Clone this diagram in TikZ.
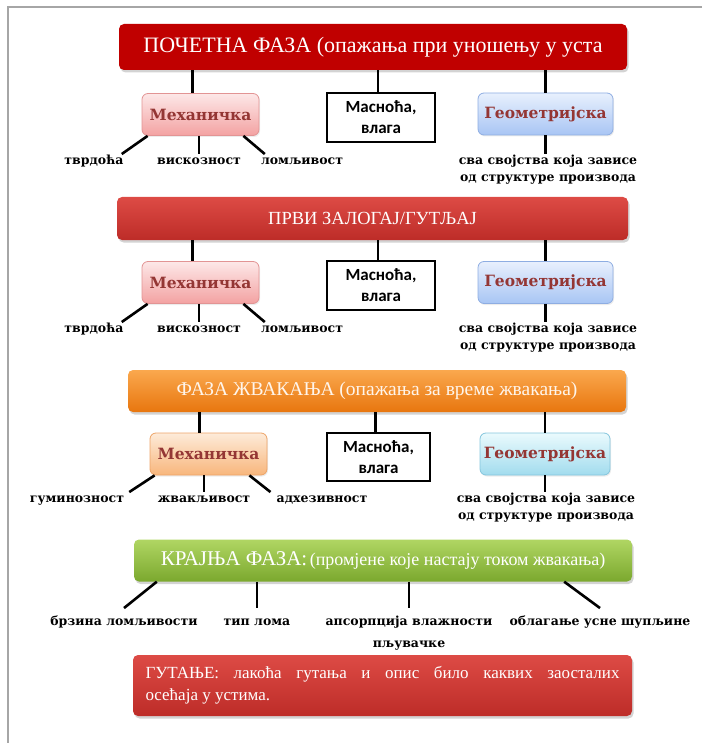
\documentclass[tikz,border=0pt]{standalone}
\usepackage{fontspec}
\setmainfont{Liberation Serif}
\newfontfamily\lblfont{DejaVu Serif}
\newfontfamily\boxfont{Carlito}
\usetikzlibrary{shadows}
\definecolor{banA}{HTML}{C00000}
\definecolor{redtop}{HTML}{DD4B45}\definecolor{redbot}{HTML}{BD2C28}
\definecolor{oratop}{HTML}{FAA84E}\definecolor{orabot}{HTML}{E8760E}
\definecolor{grntop}{HTML}{B0D663}\definecolor{grnbot}{HTML}{7BA82E}
\definecolor{pinktop}{HTML}{FDE8E8}\definecolor{pinkbot}{HTML}{F3A2A2}\definecolor{pinkline}{HTML}{E29494}
\definecolor{peachtop}{HTML}{FDEBD9}\definecolor{peachbot}{HTML}{F8B67C}\definecolor{peachline}{HTML}{EDA468}
\definecolor{bluetop}{HTML}{E8F0FD}\definecolor{bluebot}{HTML}{A8C5F4}\definecolor{blueline}{HTML}{8EADE2}
\definecolor{cyantop}{HTML}{EAFAFD}\definecolor{cyanbot}{HTML}{A2DCEE}\definecolor{cyanline}{HTML}{84C5DD}
\definecolor{mechtext}{HTML}{943634}
\begin{document}
\begin{tikzpicture}[x=1pt, y=-1pt,
  banner/.style={rounded corners=5pt, text=white, inner sep=0pt,
    drop shadow={opacity=.35, shadow xshift=1.5pt, shadow yshift=-2.5pt}},
  catbox/.style={rounded corners=6pt, draw=#1line, top color=#1top, bottom color=#1bot,
    line width=.8pt, text=mechtext, minimum height=42pt, inner sep=0pt,
    font=\lblfont\bfseries\fontsize{15.5}{17}\selectfont,
    drop shadow={opacity=.15, shadow xshift=1pt, shadow yshift=-1.5pt}},
  fatbox/.style={draw, line width=1.6pt, fill=white, align=center, minimum width=108pt,
    minimum height=49pt, inner sep=0pt, font=\boxfont\bfseries\fontsize{17}{21}\selectfont},
  lbl/.style={inner sep=1pt, text height=9pt, text depth=2.5pt,
    font=\lblfont\bfseries\fontsize{12.5}{14}\selectfont},
  lbltwo/.style={inner sep=1pt, align=center, font=\lblfont\bfseries\fontsize{12.5}{17}\selectfont},
  conn/.style={line width=2.6pt}]
\useasboundingbox (0,0) rectangle (702,743);
\draw[black!35, line width=1.2pt] (702,7) -- (8,7) -- (8,743);

% pocetna faza
\node[banner, fill=banA, minimum width=508pt, minimum height=46pt,
  font=\fontsize{22}{24}\selectfont] (ph1) at (373,47) {ПОЧЕТНА ФАЗА (опажања при уношењу у уста};
\node[catbox=pink, minimum width=117pt] (mech1) at (200.5,114.5) {Механичка};
\node[fatbox] (fat1) at (381,117.5) {Масноћа,\\влага};
\node[catbox=blue, minimum width=135pt] (geo1) at (545.5,114) {Геометријска};
\coordinate (m1t) at ([xshift=-8pt]mech1.north);
\draw[conn] (m1t |- ph1.south) -- (m1t);
\draw[conn] ([xshift=-3pt]fat1.north |- ph1.south) -- ([xshift=-3pt]fat1.north);
\draw[conn] (geo1.north |- ph1.south) -- (geo1.north);
\node[lbl] (tvrd1) at (94,161) {тврдоћа};
\node[lbl] (visk1) at (199,161) {вискозност};
\node[lbl] (lom1) at (302,161) {ломљивост};
\node[lbltwo] (geot1) at (548,169.5) {сва својства која зависе\\од структуре производа};
\draw[conn] ([xshift=6pt]mech1.south west) -- ([xshift=-3pt]tvrd1.north east);
\draw[conn] (visk1.north |- mech1.south) -- (visk1.north);
\draw[conn] ([xshift=-16pt]mech1.south east) -- ([xshift=5pt]lom1.north west);
\draw[conn] (geo1.south) -- (geo1.south |- geot1.north);

% prvi zalogaj
\node[banner, top color=redtop, bottom color=redbot, minimum width=511pt, minimum height=43pt,
  font=\fontsize{18.5}{20}\selectfont] (ph2) at (372.5,218.5) {ПРВИ ЗАЛОГАЈ/ГУТЉАЈ};
\node[catbox=pink, minimum width=117pt] (mech2) at (200.5,282.5) {Механичка};
\node[fatbox] (fat2) at (381,285.5) {Масноћа,\\влага};
\node[catbox=blue, minimum width=135pt] (geo2) at (545.5,282.5) {Геометријска};
\coordinate (m2t) at ([xshift=-8pt]mech2.north);
\draw[conn] (m2t |- ph2.south) -- (m2t);
\draw[conn] ([xshift=-3pt]fat2.north |- ph2.south) -- ([xshift=-3pt]fat2.north);
\draw[conn] (geo2.north |- ph2.south) -- (geo2.north);
\node[lbl] (tvrd2) at (94,329) {тврдоћа};
\node[lbl] (visk2) at (199,329) {вискозност};
\node[lbl] (lom2) at (302,329) {ломљивост};
\node[lbltwo] (geot2) at (548,337.5) {сва својства која зависе\\од структуре производа};
\draw[conn] ([xshift=6pt]mech2.south west) -- ([xshift=-3pt]tvrd2.north east);
\draw[conn] (visk2.north |- mech2.south) -- (visk2.north);
\draw[conn] ([xshift=-16pt]mech2.south east) -- ([xshift=5pt]lom2.north west);
\draw[conn] (geo2.south) -- (geo2.south |- geot2.north);

% faza zvakanja
\node[banner, top color=oratop, bottom color=orabot, minimum width=498pt, minimum height=42pt,
  text=white!92!orange, font=\fontsize{19.5}{22}\selectfont] (ph3) at (377,391)
  {ФАЗА ЖВАКАЊА (опажања за време жвакања)};
\node[catbox=peach, minimum width=117pt] (mech3) at (208.5,454) {Механичка};
\node[fatbox, minimum width=103pt, minimum height=48pt] (fat3) at (378.5,457) {Масноћа,\\влага};
\node[catbox=cyan, minimum width=130pt] (geo3) at (545,454) {Геометријска};
\coordinate (m3t) at ([xshift=-9pt]mech3.north);
\draw[conn] (m3t |- ph3.south) -- (m3t);
\draw[conn] ([xshift=-3pt]fat3.north |- ph3.south) -- ([xshift=-3pt]fat3.north);
\draw[conn] (geo3.north |- ph3.south) -- (geo3.north);
\node[lbl] (gum3) at (77,499) {гуминозност};
\node[lbl] (zvak3) at (204,499) {жвакљивост};
\node[lbl] (adh3) at (322,499) {адхезивност};
\node[lbltwo] (geot3) at (546,507.5) {сва својства која зависе\\од структуре производа};
\draw[conn] ([xshift=5pt]mech3.south west) -- ([xshift=4pt]gum3.north east);
\draw[conn] (zvak3.north |- mech3.south) -- (zvak3.north);
\draw[conn] ([xshift=-18pt]mech3.south east) -- ([xshift=-5pt]adh3.north west);
\draw[conn] (geo3.south) -- (geo3.south |- geot3.north);

% krajnja faza
\node[banner, top color=grntop, bottom color=grnbot, minimum width=498pt, minimum height=42pt]
  (ph4) at (383,560.5) {{\fontsize{21}{22}\selectfont КРАЈЊА ФАЗА:}
  {\fontsize{18}{18}\selectfont (промјене које настају током жвакања)}};
\node[lbl] (brz) at (124,622) {брзина ломљивости};
\node[lbl] (tip) at (257,622) {тип лома};
\node[lbltwo, font=\lblfont\bfseries\fontsize{12.5}{22}\selectfont] (aps) at (409,633)
  {апсорпција влажности\\пљувачке};
\node[lbl] (obl) at (600,622) {облагање усне шупљине};
\draw[conn] ([xshift=23pt]ph4.south west) -- ([yshift=7pt]brz.north);
\draw[conn] (tip.north |- ph4.south) -- ([yshift=7pt]tip.north);
\draw[conn] (aps.north |- ph4.south) -- ([yshift=7pt]aps.north);
\draw[conn] ([xshift=-68pt]ph4.south east) -- ([yshift=7pt]obl.north);

% gutanje
\node[banner, top color=redtop, bottom color=redbot, minimum width=499pt, minimum height=61pt,
  text width=474pt, align=justify, font=\fontsize{17}{22}\selectfont] (ph5) at (382.5,685.5)
  {ГУТАЊЕ: лакоћа гутања и опис било каквих заосталих\linebreak осећаја у устима.};
\end{tikzpicture}
\end{document}
